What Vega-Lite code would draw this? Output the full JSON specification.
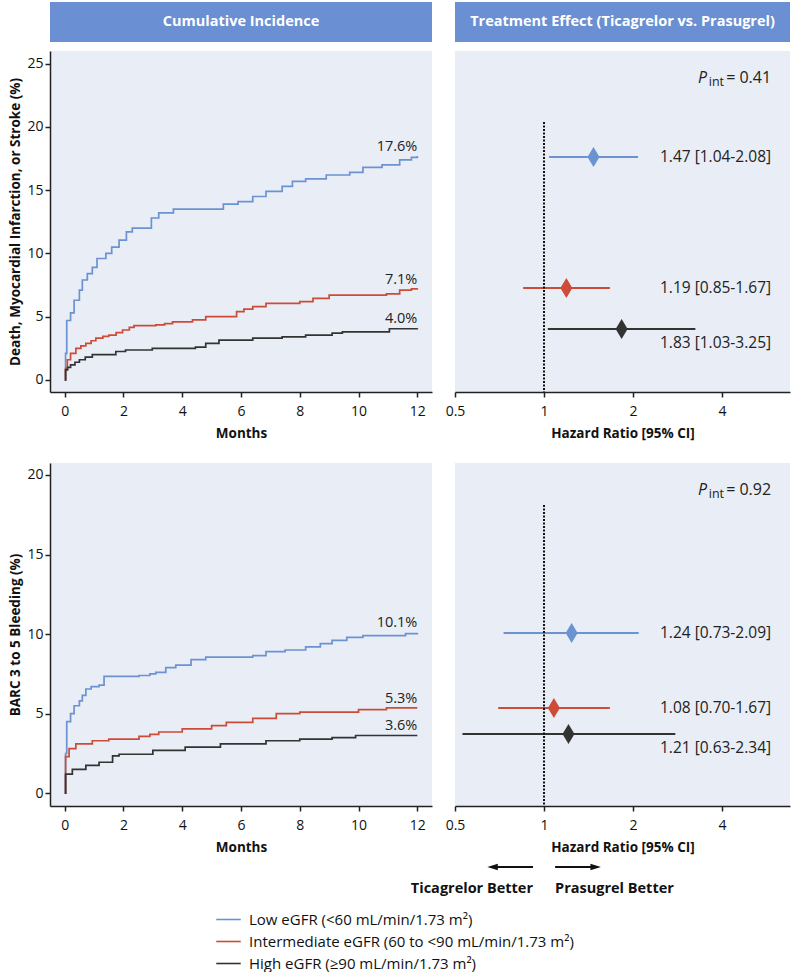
{
  "$schema": "https://vega.github.io/schema/vega-lite/v6.json",
  "padding": {"left": 8, "top": 2, "right": 5, "bottom": 5},
  "bounds": "flush",
  "columns": 2,
  "spacing": {"row": 9, "column": 23},
  "config": {
    "font": "Open Sans",
    "view": {"stroke": null},
    "axis": {"labelFont": "Open Sans", "labelFontSize": 14, "labelColor": "#111", "titleFont": "Open Sans", "titleFontSize": 13.5, "titleFontWeight": "bold", "titleColor": "#111", "domainColor": "#222", "domainWidth": 1.5, "tickColor": "#222", "tickWidth": 1.5, "tickSize": 5, "grid": false, "labelPadding": 7, "titlePadding": 8, "labelFlush": false},
    "legend": {"orient": "none", "labelFont": "Open Sans", "labelFontSize": 15, "labelColor": "#111", "labelLimit": 0, "symbolType": "stroke", "symbolStrokeWidth": 1.6, "symbolSize": 600, "rowPadding": -5, "labelOffset": 7}
  },
  "datasets": {
    "km": [
      {"outcome": "death", "group": "Low", "month": 0, "pct": 0},
      {"outcome": "death", "group": "Low", "month": 0.03, "pct": 2.1},
      {"outcome": "death", "group": "Low", "month": 0.07, "pct": 4.7},
      {"outcome": "death", "group": "Low", "month": 0.2, "pct": 5.3},
      {"outcome": "death", "group": "Low", "month": 0.32, "pct": 6.3},
      {"outcome": "death", "group": "Low", "month": 0.5, "pct": 7.1},
      {"outcome": "death", "group": "Low", "month": 0.6, "pct": 7.9},
      {"outcome": "death", "group": "Low", "month": 0.77, "pct": 8.4},
      {"outcome": "death", "group": "Low", "month": 0.94, "pct": 8.9},
      {"outcome": "death", "group": "Low", "month": 1.1, "pct": 9.6},
      {"outcome": "death", "group": "Low", "month": 1.4, "pct": 10.0},
      {"outcome": "death", "group": "Low", "month": 1.6, "pct": 10.5},
      {"outcome": "death", "group": "Low", "month": 1.85, "pct": 11.05},
      {"outcome": "death", "group": "Low", "month": 2.1, "pct": 11.7},
      {"outcome": "death", "group": "Low", "month": 2.3, "pct": 12.0},
      {"outcome": "death", "group": "Low", "month": 2.95, "pct": 12.8},
      {"outcome": "death", "group": "Low", "month": 3.2, "pct": 13.2},
      {"outcome": "death", "group": "Low", "month": 3.7, "pct": 13.5},
      {"outcome": "death", "group": "Low", "month": 5.4, "pct": 13.9},
      {"outcome": "death", "group": "Low", "month": 5.9, "pct": 14.1},
      {"outcome": "death", "group": "Low", "month": 6.4, "pct": 14.5},
      {"outcome": "death", "group": "Low", "month": 6.85, "pct": 14.9},
      {"outcome": "death", "group": "Low", "month": 7.4, "pct": 15.3},
      {"outcome": "death", "group": "Low", "month": 7.75, "pct": 15.7},
      {"outcome": "death", "group": "Low", "month": 8.2, "pct": 15.9},
      {"outcome": "death", "group": "Low", "month": 8.9, "pct": 16.2},
      {"outcome": "death", "group": "Low", "month": 9.7, "pct": 16.4},
      {"outcome": "death", "group": "Low", "month": 10.15, "pct": 16.8},
      {"outcome": "death", "group": "Low", "month": 10.8, "pct": 17.0},
      {"outcome": "death", "group": "Low", "month": 11.4, "pct": 17.4},
      {"outcome": "death", "group": "Low", "month": 11.8, "pct": 17.6},
      {"outcome": "death", "group": "Low", "month": 12, "pct": 17.7},
      {"outcome": "death", "group": "Intermediate", "month": 0, "pct": 0},
      {"outcome": "death", "group": "Intermediate", "month": 0.03, "pct": 0.9},
      {"outcome": "death", "group": "Intermediate", "month": 0.09, "pct": 1.6},
      {"outcome": "death", "group": "Intermediate", "month": 0.2, "pct": 2.1},
      {"outcome": "death", "group": "Intermediate", "month": 0.38, "pct": 2.5},
      {"outcome": "death", "group": "Intermediate", "month": 0.55, "pct": 2.7},
      {"outcome": "death", "group": "Intermediate", "month": 0.72, "pct": 2.9},
      {"outcome": "death", "group": "Intermediate", "month": 0.9, "pct": 3.1},
      {"outcome": "death", "group": "Intermediate", "month": 1.06, "pct": 3.3},
      {"outcome": "death", "group": "Intermediate", "month": 1.3, "pct": 3.45},
      {"outcome": "death", "group": "Intermediate", "month": 1.5, "pct": 3.55},
      {"outcome": "death", "group": "Intermediate", "month": 1.75, "pct": 3.75},
      {"outcome": "death", "group": "Intermediate", "month": 1.97, "pct": 3.95},
      {"outcome": "death", "group": "Intermediate", "month": 2.2, "pct": 4.15},
      {"outcome": "death", "group": "Intermediate", "month": 2.36, "pct": 4.3},
      {"outcome": "death", "group": "Intermediate", "month": 3.1, "pct": 4.35},
      {"outcome": "death", "group": "Intermediate", "month": 3.4, "pct": 4.45},
      {"outcome": "death", "group": "Intermediate", "month": 3.67, "pct": 4.6},
      {"outcome": "death", "group": "Intermediate", "month": 4.35, "pct": 4.75},
      {"outcome": "death", "group": "Intermediate", "month": 4.8, "pct": 5.0},
      {"outcome": "death", "group": "Intermediate", "month": 5.85, "pct": 5.4},
      {"outcome": "death", "group": "Intermediate", "month": 6.1, "pct": 5.6},
      {"outcome": "death", "group": "Intermediate", "month": 6.4, "pct": 5.8},
      {"outcome": "death", "group": "Intermediate", "month": 6.85, "pct": 6.05},
      {"outcome": "death", "group": "Intermediate", "month": 8.0, "pct": 6.2},
      {"outcome": "death", "group": "Intermediate", "month": 8.45, "pct": 6.45},
      {"outcome": "death", "group": "Intermediate", "month": 9.0, "pct": 6.7},
      {"outcome": "death", "group": "Intermediate", "month": 10.95, "pct": 6.8},
      {"outcome": "death", "group": "Intermediate", "month": 11.4, "pct": 7.1},
      {"outcome": "death", "group": "Intermediate", "month": 11.8, "pct": 7.2},
      {"outcome": "death", "group": "Intermediate", "month": 12, "pct": 7.25},
      {"outcome": "death", "group": "High", "month": 0, "pct": 0},
      {"outcome": "death", "group": "High", "month": 0.03, "pct": 0.8},
      {"outcome": "death", "group": "High", "month": 0.1, "pct": 1.0},
      {"outcome": "death", "group": "High", "month": 0.2, "pct": 1.2},
      {"outcome": "death", "group": "High", "month": 0.35, "pct": 1.4},
      {"outcome": "death", "group": "High", "month": 0.5, "pct": 1.6},
      {"outcome": "death", "group": "High", "month": 0.7, "pct": 1.8},
      {"outcome": "death", "group": "High", "month": 0.94, "pct": 2.0},
      {"outcome": "death", "group": "High", "month": 1.74, "pct": 2.25},
      {"outcome": "death", "group": "High", "month": 2.07, "pct": 2.37},
      {"outcome": "death", "group": "High", "month": 2.98, "pct": 2.5},
      {"outcome": "death", "group": "High", "month": 4.45, "pct": 2.6},
      {"outcome": "death", "group": "High", "month": 4.8, "pct": 2.9},
      {"outcome": "death", "group": "High", "month": 5.25, "pct": 3.15},
      {"outcome": "death", "group": "High", "month": 6.4, "pct": 3.3},
      {"outcome": "death", "group": "High", "month": 7.4, "pct": 3.4},
      {"outcome": "death", "group": "High", "month": 8.2, "pct": 3.55},
      {"outcome": "death", "group": "High", "month": 9.1, "pct": 3.7},
      {"outcome": "death", "group": "High", "month": 9.45, "pct": 3.8},
      {"outcome": "death", "group": "High", "month": 11.05, "pct": 4.05},
      {"outcome": "death", "group": "High", "month": 12, "pct": 4.08},
      {"outcome": "bleed", "group": "Low", "month": 0, "pct": 0},
      {"outcome": "bleed", "group": "Low", "month": 0.03, "pct": 2.5},
      {"outcome": "bleed", "group": "Low", "month": 0.07, "pct": 4.5},
      {"outcome": "bleed", "group": "Low", "month": 0.2, "pct": 5.0},
      {"outcome": "bleed", "group": "Low", "month": 0.32, "pct": 5.5},
      {"outcome": "bleed", "group": "Low", "month": 0.5, "pct": 5.8},
      {"outcome": "bleed", "group": "Low", "month": 0.6, "pct": 6.15},
      {"outcome": "bleed", "group": "Low", "month": 0.72, "pct": 6.55},
      {"outcome": "bleed", "group": "Low", "month": 0.9, "pct": 6.7},
      {"outcome": "bleed", "group": "Low", "month": 1.17, "pct": 6.8},
      {"outcome": "bleed", "group": "Low", "month": 1.34, "pct": 7.35},
      {"outcome": "bleed", "group": "Low", "month": 2.53, "pct": 7.4},
      {"outcome": "bleed", "group": "Low", "month": 2.9, "pct": 7.5},
      {"outcome": "bleed", "group": "Low", "month": 3.1, "pct": 7.6},
      {"outcome": "bleed", "group": "Low", "month": 3.44, "pct": 7.9},
      {"outcome": "bleed", "group": "Low", "month": 3.78, "pct": 8.05},
      {"outcome": "bleed", "group": "Low", "month": 4.3, "pct": 8.4},
      {"outcome": "bleed", "group": "Low", "month": 4.8, "pct": 8.55},
      {"outcome": "bleed", "group": "Low", "month": 6.4, "pct": 8.65},
      {"outcome": "bleed", "group": "Low", "month": 6.85, "pct": 8.9},
      {"outcome": "bleed", "group": "Low", "month": 7.5, "pct": 9.0},
      {"outcome": "bleed", "group": "Low", "month": 8.2, "pct": 9.2},
      {"outcome": "bleed", "group": "Low", "month": 8.7, "pct": 9.4},
      {"outcome": "bleed", "group": "Low", "month": 9.1, "pct": 9.6},
      {"outcome": "bleed", "group": "Low", "month": 9.6, "pct": 9.8},
      {"outcome": "bleed", "group": "Low", "month": 10.15, "pct": 9.9},
      {"outcome": "bleed", "group": "Low", "month": 11.6, "pct": 10.03},
      {"outcome": "bleed", "group": "Low", "month": 12, "pct": 10.07},
      {"outcome": "bleed", "group": "Intermediate", "month": 0, "pct": 0},
      {"outcome": "bleed", "group": "Intermediate", "month": 0.03, "pct": 2.3},
      {"outcome": "bleed", "group": "Intermediate", "month": 0.15, "pct": 2.8},
      {"outcome": "bleed", "group": "Intermediate", "month": 0.38, "pct": 3.1},
      {"outcome": "bleed", "group": "Intermediate", "month": 0.94, "pct": 3.3},
      {"outcome": "bleed", "group": "Intermediate", "month": 1.5, "pct": 3.4},
      {"outcome": "bleed", "group": "Intermediate", "month": 2.53, "pct": 3.57},
      {"outcome": "bleed", "group": "Intermediate", "month": 2.9, "pct": 3.7},
      {"outcome": "bleed", "group": "Intermediate", "month": 3.2, "pct": 3.85},
      {"outcome": "bleed", "group": "Intermediate", "month": 4.0, "pct": 4.05},
      {"outcome": "bleed", "group": "Intermediate", "month": 5.0, "pct": 4.25},
      {"outcome": "bleed", "group": "Intermediate", "month": 5.5, "pct": 4.45},
      {"outcome": "bleed", "group": "Intermediate", "month": 6.4, "pct": 4.7},
      {"outcome": "bleed", "group": "Intermediate", "month": 7.2, "pct": 5.0},
      {"outcome": "bleed", "group": "Intermediate", "month": 8.0, "pct": 5.1},
      {"outcome": "bleed", "group": "Intermediate", "month": 10.0, "pct": 5.25},
      {"outcome": "bleed", "group": "Intermediate", "month": 10.95, "pct": 5.37},
      {"outcome": "bleed", "group": "Intermediate", "month": 12, "pct": 5.37},
      {"outcome": "bleed", "group": "High", "month": 0, "pct": 0},
      {"outcome": "bleed", "group": "High", "month": 0.03, "pct": 1.2},
      {"outcome": "bleed", "group": "High", "month": 0.26, "pct": 1.5},
      {"outcome": "bleed", "group": "High", "month": 0.72, "pct": 1.75},
      {"outcome": "bleed", "group": "High", "month": 1.17, "pct": 1.95},
      {"outcome": "bleed", "group": "High", "month": 1.63, "pct": 2.35},
      {"outcome": "bleed", "group": "High", "month": 1.85, "pct": 2.45},
      {"outcome": "bleed", "group": "High", "month": 3.0, "pct": 2.7},
      {"outcome": "bleed", "group": "High", "month": 4.1, "pct": 2.9},
      {"outcome": "bleed", "group": "High", "month": 5.3, "pct": 3.1},
      {"outcome": "bleed", "group": "High", "month": 6.85, "pct": 3.3},
      {"outcome": "bleed", "group": "High", "month": 8.0, "pct": 3.4},
      {"outcome": "bleed", "group": "High", "month": 9.1, "pct": 3.5},
      {"outcome": "bleed", "group": "High", "month": 9.9, "pct": 3.63},
      {"outcome": "bleed", "group": "High", "month": 12, "pct": 3.63}
    ],
    "kmlab": [
      {"outcome": "death", "group": "Low", "end": 17.6, "label": "17.6%"},
      {"outcome": "death", "group": "Intermediate", "end": 7.1, "label": "7.1%"},
      {"outcome": "death", "group": "High", "end": 4.0, "label": "4.0%"},
      {"outcome": "bleed", "group": "Low", "end": 10.1, "label": "10.1%"},
      {"outcome": "bleed", "group": "Intermediate", "end": 5.3, "label": "5.3%"},
      {"outcome": "bleed", "group": "High", "end": 3.6, "label": "3.6%"}
    ],
    "hr": [
      {"outcome": "death", "group": "Low", "row": 1, "hr": 1.47, "lo": 1.04, "hi": 2.08, "label": "1.47 [1.04-2.08]"},
      {"outcome": "death", "group": "Intermediate", "row": 2, "hr": 1.19, "lo": 0.85, "hi": 1.67, "label": "1.19 [0.85-1.67]"},
      {"outcome": "death", "group": "High", "row": 3, "hr": 1.83, "lo": 1.03, "hi": 3.25, "label": "1.83 [1.03-3.25]"},
      {"outcome": "bleed", "group": "Low", "row": 1, "hr": 1.24, "lo": 0.73, "hi": 2.09, "label": "1.24 [0.73-2.09]"},
      {"outcome": "bleed", "group": "Intermediate", "row": 2, "hr": 1.08, "lo": 0.70, "hi": 1.67, "label": "1.08 [0.70-1.67]"},
      {"outcome": "bleed", "group": "High", "row": 3, "hr": 1.21, "lo": 0.53, "hi": 2.78, "label": "1.21 [0.63-2.34]"}
    ]
  },
  "concat": [
    {
      "width": 382, "height": 40,
      "view": {"fill": "#6a8fd2"},
      "data": {"values": [{"h": "Cumulative Incidence"}]},
      "mark": {"type": "text", "color": "white", "fontWeight": "bold", "fontSize": 14.5},
      "encoding": {"text": {"field": "h"}}
    },
    {
      "width": 335, "height": 40,
      "view": {"fill": "#6a8fd2"},
      "data": {"values": [{"h": "Treatment Effect (Ticagrelor vs. Prasugrel)"}]},
      "mark": {"type": "text", "color": "white", "fontWeight": "bold", "fontSize": 14.5},
      "encoding": {"text": {"field": "h"}}
    },
    {
      "width": 382, "height": 341,
      "view": {"fill": "#e8edf6"},
      "layer": [
        {
          "data": {"name": "km"},
          "transform": [{"filter": "datum.outcome == 'death'"}],
          "mark": {"type": "line", "interpolate": "step-after", "strokeWidth": 1.7},
          "encoding": {
            "x": {"field": "month", "type": "quantitative", "scale": {"domain": [-0.5, 12.5], "nice": false, "zero": false}, "axis": {"values": [0, 2, 4, 6, 8, 10, 12], "title": "Months"}},
            "y": {"field": "pct", "type": "quantitative", "scale": {"domain": [-0.95, 26], "nice": false, "zero": false}, "axis": {"values": [0, 5, 10, 15, 20, 25], "title": "Death, Myocardial Infarction, or Stroke (%)", "labelPadding": 2, "titlePadding": 4}},
            "color": {"field": "group", "type": "nominal", "scale": {"domain": ["Low", "Intermediate", "High"], "range": ["#6b93d2", "#cc4c38", "#333333"]},
              "legend": {"title": null, "legendX": 165, "legendY": 904, "labelExpr": "datum.label == 'Low' ? 'Low eGFR (<60 mL/min/1.73 m²)' : datum.label == 'Intermediate' ? 'Intermediate eGFR (60 to <90 mL/min/1.73 m²)' : 'High eGFR (≥90 mL/min/1.73 m²)'"}},
            "detail": {"field": "group"}
          }
        },
        {
          "data": {"name": "kmlab"},
          "transform": [{"filter": "datum.outcome == 'death'"}],
          "mark": {"type": "text", "align": "right", "baseline": "alphabetic", "dy": -6, "fontSize": 14.5, "color": "#222"},
          "encoding": {"x": {"datum": 12}, "y": {"field": "end", "type": "quantitative"}, "text": {"field": "label"}}
        }
      ]
    },
    {
      "width": 335, "height": 341,
      "view": {"fill": "#e8edf6"},
      "layer": [
        {
          "data": {"name": "hr"},
          "transform": [{"filter": "datum.outcome == 'death'"}],
          "mark": {"type": "rule", "strokeWidth": 2.2},
          "encoding": {
            "y": {"field": "row", "type": "quantitative", "scale": {"domain": [0, 1, 2, 3, 4], "range": [0, 106, 237, 278, 341], "nice": false, "zero": false}, "axis": null},
            "x": {"field": "lo", "type": "quantitative", "scale": {"type": "log", "base": 2, "domain": [0.5, 6.79], "nice": false}, "axis": {"values": [0.5, 1, 2, 4], "format": "~g", "title": "Hazard Ratio [95% CI]"}},
            "x2": {"field": "hi"},
            "color": {"field": "group", "type": "nominal", "legend": null}
          }
        },
        {
          "data": {"name": "hr"},
          "transform": [{"filter": "datum.outcome == 'death'"}],
          "mark": {"type": "point", "shape": "M0,-1L0.6,0L0,1L-0.6,0Z", "filled": true, "size": 400, "opacity": 1},
          "encoding": {"y": {"field": "row", "type": "quantitative"}, "x": {"field": "hr", "type": "quantitative"}, "color": {"field": "group", "type": "nominal", "legend": null}}
        },
        {
          "data": {"name": "hr"},
          "transform": [{"filter": "datum.outcome == 'death' && datum.group != 'High'"}],
          "mark": {"type": "text", "align": "right", "fontSize": 15.5, "color": "#222"},
          "encoding": {"y": {"field": "row", "type": "quantitative"}, "x": {"datum": 5.86}, "text": {"field": "label"}}
        },
        {
          "data": {"name": "hr"},
          "transform": [{"filter": "datum.outcome == 'death' && datum.group == 'High'"}],
          "mark": {"type": "text", "align": "right", "fontSize": 15.5, "color": "#222", "dy": 14},
          "encoding": {"y": {"field": "row", "type": "quantitative"}, "x": {"datum": 5.86}, "text": {"field": "label"}}
        },
        {
          "data": {"values": [{"k": 1}]},
          "mark": {"type": "rule", "strokeDash": [2, 1.5], "strokeWidth": 2, "color": "#111"},
          "encoding": {"x": {"datum": 1, "type": "quantitative"}, "y": {"datum": 0.67, "type": "quantitative"}, "y2": {"datum": 4}}
        },
        {
          "data": {"values": [{"p": "= 0.41"}]},
          "mark": {"type": "text", "align": "right", "fontSize": 16, "color": "#222"},
          "encoding": {"x": {"datum": 5.86, "type": "quantitative"}, "y": {"datum": 0.255, "type": "quantitative"}, "text": {"field": "p"}}
        },
        {
          "data": {"values": [{"p": "int"}]},
          "mark": {"type": "text", "align": "right", "fontSize": 12.5, "color": "#222", "dx": -47, "dy": 4},
          "encoding": {"x": {"datum": 5.86, "type": "quantitative"}, "y": {"datum": 0.255, "type": "quantitative"}, "text": {"field": "p"}}
        },
        {
          "data": {"values": [{"p": "P"}]},
          "mark": {"type": "text", "align": "right", "fontSize": 16, "fontStyle": "italic", "color": "#222", "dx": -64},
          "encoding": {"x": {"datum": 5.86, "type": "quantitative"}, "y": {"datum": 0.255, "type": "quantitative"}, "text": {"field": "p"}}
        }
      ]
    },
    {
      "width": 382, "height": 53,
      "data": {"values": []},
      "mark": {"type": "text"},
      "encoding": {}
    },
    {
      "width": 335, "height": 53,
      "data": {"values": []},
      "mark": {"type": "text"},
      "encoding": {}
    },
    {
      "width": 382, "height": 343,
      "view": {"fill": "#e8edf6"},
      "layer": [
        {
          "data": {"name": "km"},
          "transform": [{"filter": "datum.outcome == 'bleed'"}],
          "mark": {"type": "line", "interpolate": "step-after", "strokeWidth": 1.7},
          "encoding": {
            "x": {"field": "month", "type": "quantitative", "scale": {"domain": [-0.5, 12.5], "nice": false, "zero": false}, "axis": {"values": [0, 2, 4, 6, 8, 10, 12], "title": "Months"}},
            "y": {"field": "pct", "type": "quantitative", "scale": {"domain": [-0.8, 20.75], "nice": false, "zero": false}, "axis": {"values": [0, 5, 10, 15, 20], "title": "BARC 3 to 5 Bleeding (%)", "labelPadding": 2, "titlePadding": 4}},
            "color": {"field": "group", "type": "nominal", "legend": null},
            "detail": {"field": "group"}
          }
        },
        {
          "data": {"name": "kmlab"},
          "transform": [{"filter": "datum.outcome == 'bleed'"}],
          "mark": {"type": "text", "align": "right", "baseline": "alphabetic", "dy": -6, "fontSize": 14.5, "color": "#222"},
          "encoding": {"x": {"datum": 12}, "y": {"field": "end", "type": "quantitative"}, "text": {"field": "label"}}
        }
      ]
    },
    {
      "width": 335, "height": 343,
      "view": {"fill": "#e8edf6"},
      "layer": [
        {
          "data": {"name": "hr"},
          "transform": [{"filter": "datum.outcome == 'bleed'"}],
          "mark": {"type": "rule", "strokeWidth": 2.2},
          "encoding": {
            "y": {"field": "row", "type": "quantitative", "scale": {"domain": [0, 1, 2, 3, 4], "range": [0, 170, 245, 271, 343], "nice": false, "zero": false}, "axis": null},
            "x": {"field": "lo", "type": "quantitative", "scale": {"type": "log", "base": 2, "domain": [0.5, 6.79], "nice": false}, "axis": {"values": [0.5, 1, 2, 4], "format": "~g", "title": "Hazard Ratio [95% CI]"}},
            "x2": {"field": "hi"},
            "color": {"field": "group", "type": "nominal", "legend": null}
          }
        },
        {
          "data": {"name": "hr"},
          "transform": [{"filter": "datum.outcome == 'bleed'"}],
          "mark": {"type": "point", "shape": "M0,-1L0.6,0L0,1L-0.6,0Z", "filled": true, "size": 400, "opacity": 1},
          "encoding": {"y": {"field": "row", "type": "quantitative"}, "x": {"field": "hr", "type": "quantitative"}, "color": {"field": "group", "type": "nominal", "legend": null}}
        },
        {
          "data": {"name": "hr"},
          "transform": [{"filter": "datum.outcome == 'bleed' && datum.group != 'High'"}],
          "mark": {"type": "text", "align": "right", "fontSize": 15.5, "color": "#222"},
          "encoding": {"y": {"field": "row", "type": "quantitative"}, "x": {"datum": 5.86}, "text": {"field": "label"}}
        },
        {
          "data": {"name": "hr"},
          "transform": [{"filter": "datum.outcome == 'bleed' && datum.group == 'High'"}],
          "mark": {"type": "text", "align": "right", "fontSize": 15.5, "color": "#222", "dy": 14},
          "encoding": {"y": {"field": "row", "type": "quantitative"}, "x": {"datum": 5.86}, "text": {"field": "label"}}
        },
        {
          "data": {"values": [{"k": 1}]},
          "mark": {"type": "rule", "strokeDash": [2, 1.5], "strokeWidth": 2, "color": "#111"},
          "encoding": {"x": {"datum": 1, "type": "quantitative"}, "y": {"datum": 0.247, "type": "quantitative"}, "y2": {"datum": 4}}
        },
        {
          "data": {"values": [{"p": "= 0.92"}]},
          "mark": {"type": "text", "align": "right", "fontSize": 16, "color": "#222"},
          "encoding": {"x": {"datum": 5.86, "type": "quantitative"}, "y": {"datum": 0.159, "type": "quantitative"}, "text": {"field": "p"}}
        },
        {
          "data": {"values": [{"p": "int"}]},
          "mark": {"type": "text", "align": "right", "fontSize": 12.5, "color": "#222", "dx": -47, "dy": 4},
          "encoding": {"x": {"datum": 5.86, "type": "quantitative"}, "y": {"datum": 0.159, "type": "quantitative"}, "text": {"field": "p"}}
        },
        {
          "data": {"values": [{"p": "P"}]},
          "mark": {"type": "text", "align": "right", "fontSize": 16, "fontStyle": "italic", "color": "#222", "dx": -64},
          "encoding": {"x": {"datum": 5.86, "type": "quantitative"}, "y": {"datum": 0.159, "type": "quantitative"}, "text": {"field": "p"}}
        },
        {
          "data": {"values": [{"k": 1}]},
          "mark": {"type": "rule", "strokeWidth": 2, "color": "#111"},
          "encoding": {"x": {"datum": 0.918, "type": "quantitative"}, "x2": {"datum": 0.69}, "y": {"datum": 4.847, "type": "quantitative"}}
        },
        {
          "data": {"values": [{"k": 1}]},
          "mark": {"type": "rule", "strokeWidth": 2, "color": "#111"},
          "encoding": {"x": {"datum": 1.09, "type": "quantitative"}, "x2": {"datum": 1.45}, "y": {"datum": 4.847, "type": "quantitative"}}
        },
        {
          "data": {"values": [{"k": 1}]},
          "mark": {"type": "point", "shape": "M-1,0L1,-0.6L1,0.6Z", "filled": true, "size": 110, "color": "#111", "opacity": 1},
          "encoding": {"x": {"datum": 0.67, "type": "quantitative"}, "y": {"datum": 4.847, "type": "quantitative"}}
        },
        {
          "data": {"values": [{"k": 1}]},
          "mark": {"type": "point", "shape": "M1,0L-1,-0.6L-1,0.6Z", "filled": true, "size": 110, "color": "#111", "opacity": 1},
          "encoding": {"x": {"datum": 1.495, "type": "quantitative"}, "y": {"datum": 4.847, "type": "quantitative"}}
        },
        {
          "data": {"values": [{"t": "Ticagrelor Better"}]},
          "mark": {"type": "text", "align": "right", "fontSize": 14.5, "fontWeight": "bold", "color": "#111"},
          "encoding": {"x": {"datum": 0.918, "type": "quantitative"}, "y": {"datum": 5.15, "type": "quantitative"}, "text": {"field": "t"}}
        },
        {
          "data": {"values": [{"t": "Prasugrel Better"}]},
          "mark": {"type": "text", "align": "left", "fontSize": 14.5, "fontWeight": "bold", "color": "#111"},
          "encoding": {"x": {"datum": 1.09, "type": "quantitative"}, "y": {"datum": 5.15, "type": "quantitative"}, "text": {"field": "t"}}
        }
      ]
    }
  ]
}
